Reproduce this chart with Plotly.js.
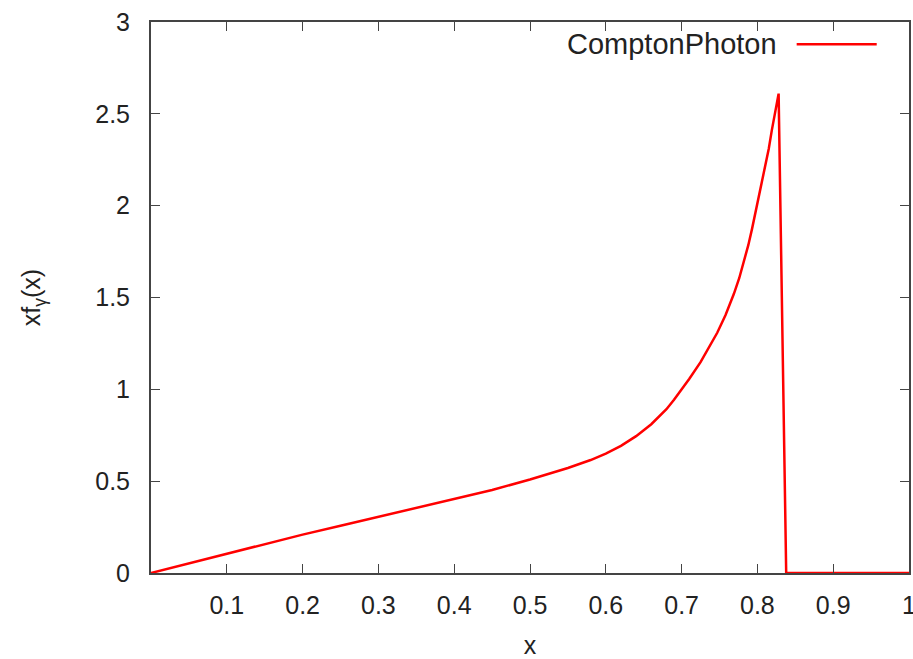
<!DOCTYPE html>
<html>
<head>
<meta charset="utf-8">
<script src="https://cdn.plot.ly/plotly-3.0.1.min.js"></script>
<style>html,body{margin:0;padding:0;background:#fff;}#chart{width:913px;height:659px;}</style>
</head>
<body>
<div id="chart"></div>
<script>
// Data
const xValues = [0, 0.05, 0.1, 0.15, 0.2, 0.25, 0.3, 0.35, 0.4, 0.45, 0.5, 0.55, 0.58, 0.6, 0.62, 0.64, 0.66, 0.68, 0.69, 0.7, 0.71, 0.725, 0.735, 0.747, 0.758, 0.769, 0.776, 0.782, 0.788, 0.793, 0.799, 0.804, 0.81, 0.815, 0.819, 0.823, 0.828, 0.838, 0.9, 1.0];
const yValues = [0, 0.053, 0.106, 0.158, 0.209, 0.257, 0.305, 0.352, 0.40, 0.452, 0.509, 0.572, 0.615, 0.65, 0.692, 0.745, 0.81, 0.892, 0.943, 0.998, 1.056, 1.148, 1.218, 1.308, 1.405, 1.52, 1.605, 1.69, 1.785, 1.875, 1.99, 2.085, 2.20, 2.31, 2.41, 2.505, 2.61, 0, 0, 0];
const seriesName = "ComptonPhoton";
const xTickVals = [0.1, 0.2, 0.3, 0.4, 0.5, 0.6, 0.7, 0.8, 0.9, 1];
const xTickText = ["0.1", "0.2", "0.3", "0.4", "0.5", "0.6", "0.7", "0.8", "0.9", "1"];
const yTickVals = [0, 0.5, 1, 1.5, 2, 2.5, 3];
const yTickText = ["0", "0.5", "1", "1.5", "2", "2.5", "3"];

const font = "Liberation Sans, Arial, sans-serif";
const textColor = "#222222";

const trace = {
  x: xValues, y: yValues, type: "scatter", mode: "lines",
  name: seriesName,
  line: {color: "#ff0000", width: 2.5},
  cliponaxis: false,
  showlegend: false
};

const axisCommon = {
  showgrid: false, zeroline: false, showline: true, linecolor: "#444444", linewidth: 2,
  mirror: "ticks", ticks: "inside", ticklen: 9, tickwidth: 1, tickcolor: "#444444",
  tickfont: {family: font, size: 25, color: textColor},
  ticklabeloverflow: "allow"
};

const layout = {
  width: 913, height: 659,
  margin: {l: 151, r: 4, t: 22, b: 86},
  paper_bgcolor: "#ffffff", plot_bgcolor: "#ffffff",
  xaxis: Object.assign({}, axisCommon, {
    range: [0, 1], tickmode: "array", tickvals: xTickVals, ticktext: xTickText,
    ticklabelstandoff: 9,
    title: {text: "x", font: {family: font, size: 25, color: textColor}, standoff: 20}
  }),
  yaxis: Object.assign({}, axisCommon, {
    range: [0, 3], tickmode: "array", tickvals: yTickVals, ticktext: yTickText,
    ticklabelstandoff: 14,
    title: {text: "xf<sub>γ</sub>(x)", font: {family: font, size: 25, color: textColor}, standoff: 47}
  }),
  annotations: [{
    xref: "paper", yref: "paper", x: 0.828, y: 0.9595, xanchor: "right", yanchor: "middle",
    text: seriesName, showarrow: false, font: {family: font, size: 29, color: textColor}
  }],
  shapes: [{
    type: "line", xref: "paper", yref: "paper", x0: 0.8518, x1: 0.9574, y0: 0.9595, y1: 0.9595,
    line: {color: "#ff0000", width: 2.5}
  }]
};

Plotly.newPlot("chart", [trace], layout, {displayModeBar: false, staticPlot: true});
</script>
</body>
</html>
